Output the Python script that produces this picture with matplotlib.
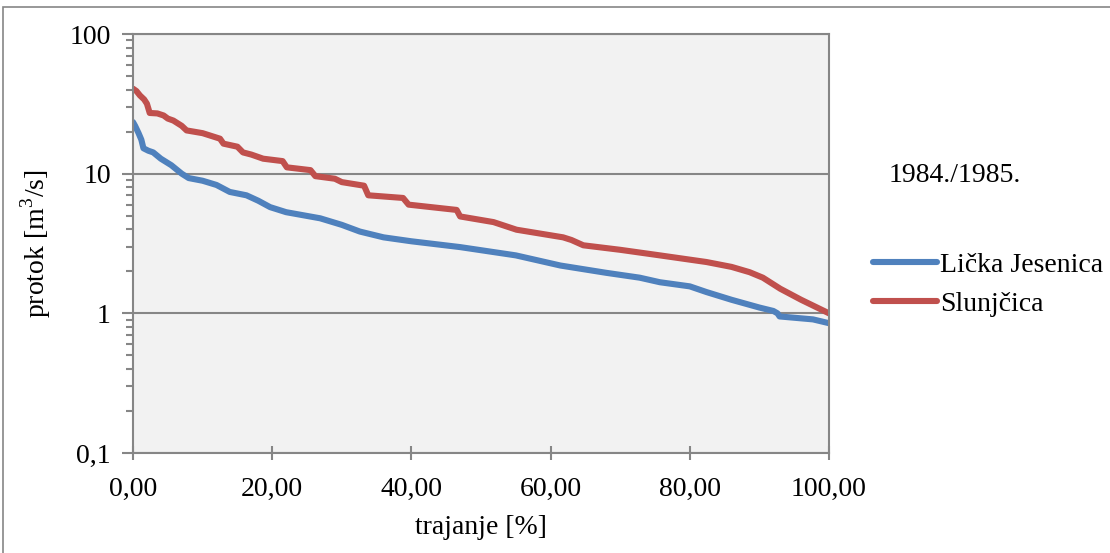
import matplotlib.pyplot as plt
from matplotlib.ticker import FixedLocator, FuncFormatter, LogLocator, NullFormatter
from matplotlib.patches import Rectangle

# duration curves (trajanje %, protok m3/s)
licka_x = [0.0, 0.3, 0.8, 1.2, 1.5, 2.2, 2.9, 4.0, 5.5, 7.0, 8.0, 10.0, 12.0, 13.9,
           16.3, 18.0, 19.7, 22.0, 26.9, 30.0, 32.6, 36.0, 40.0, 47.0, 55.0, 61.4,
           68.0, 72.8, 75.7, 80.0, 82.4, 86.0, 90.0, 92.0, 92.6, 92.9, 95.0, 97.7, 100.0]
licka_y = [23.4, 22.0, 19.5, 17.5, 15.2, 14.6, 14.2, 12.8, 11.5, 10.0, 9.3, 8.9, 8.3, 7.4,
           7.0, 6.4, 5.76, 5.3, 4.79, 4.3, 3.85, 3.5, 3.28, 2.98, 2.6, 2.2,
           1.95, 1.8, 1.67, 1.56, 1.42, 1.25, 1.1, 1.04, 1.0, 0.95, 0.93, 0.905, 0.85]

slunj_x = [0.0, 0.5, 1.0, 1.6, 2.0, 2.4, 3.5, 4.4, 5.0, 5.8, 7.0, 7.7, 10.0, 12.5,
           13.0, 15.0, 15.8, 17.0, 18.7, 21.5, 22.1, 25.5, 26.2, 29.0, 30.0, 33.2,
           33.8, 38.8, 39.6, 46.5, 47.0, 51.8, 55.1, 61.8, 63.0, 64.7, 70.0, 75.7,
           82.4, 86.0, 88.6, 90.5, 93.0, 96.0, 100.0]
slunj_y = [40.6, 39.0, 36.3, 34.0, 31.7, 27.2, 27.0, 26.1, 24.8, 24.0, 22.0, 20.4, 19.5, 17.8,
           16.4, 15.6, 14.2, 13.7, 12.8, 12.3, 11.1, 10.6, 9.6, 9.2, 8.7, 8.2,
           7.0, 6.7, 6.0, 5.5, 4.94, 4.5, 3.97, 3.5, 3.35, 3.07, 2.85, 2.6,
           2.33, 2.15, 1.97, 1.8, 1.5, 1.25, 1.0]

x_ticks = [0, 20, 40, 60, 80, 100]
y_ticks = [0.1, 1, 10, 100]

plt.rcParams['font.family'] = ['Liberation Serif', 'DejaVu Serif']
plt.rcParams['font.size'] = 20
plt.rcParams['mathtext.fontset'] = 'custom'
plt.rcParams['mathtext.rm'] = 'Liberation Serif'

fig = plt.figure(figsize=(11.1, 5.53), dpi=100)
ax = fig.add_axes([133 / 1110, 1 - 453 / 553, (829 - 133) / 1110, (453 - 34) / 553])

ax.set_facecolor('#F2F2F2')
ax.plot(licka_x, licka_y, color='#4F81BD', lw=4.4, solid_capstyle='round',
        solid_joinstyle='round', label='Lička Jesenica')
ax.plot(slunj_x, slunj_y, color='#C0504D', lw=4.4, solid_capstyle='round',
        solid_joinstyle='round', label='Slunjčica')

ax.set_yscale('log')
ax.set_xlim(0, 100)
ax.set_ylim(0.1, 100)
ax.xaxis.set_major_locator(FixedLocator(x_ticks))
ax.xaxis.set_major_formatter(FuncFormatter(lambda v, p: f'{v:.2f}'.replace('.', ',')))
ax.yaxis.set_major_locator(FixedLocator(y_ticks))
ax.yaxis.set_major_formatter(FuncFormatter(lambda v, p: f'{v:g}'.replace('.', ',')))
ax.yaxis.set_minor_locator(LogLocator(base=10, subs=range(2, 10)))
ax.yaxis.set_minor_formatter(NullFormatter())

ax.grid(axis='y', which='major', color='#868686', lw=1.5)
ax.set_axisbelow(True)
for s in ax.spines.values():
    s.set_color('#868686')
    s.set_linewidth(1.5)
ax.tick_params(axis='y', which='major', direction='out', length=8, width=1.5,
               color='#868686', pad=8)
ax.tick_params(axis='y', which='minor', direction='out', length=5, width=1.5,
               color='#868686')
ax.tick_params(axis='x', which='major', direction='inout', length=10, width=1.5,
               color='#868686', pad=12)

ax.set_xlabel('trajanje [%]', labelpad=10)
ax.set_ylabel('protok [m$^3$/s]', labelpad=12)

fig.text(955 / 1110, 1 - 175 / 553, '1984./1985.', ha='center', va='center')
ax.legend(loc='upper left', bbox_to_anchor=(862 / 1110, 1 - 241 / 553),
          bbox_transform=fig.transFigure, frameon=False, borderaxespad=0,
          handlelength=2.3, handletextpad=0.1, labelspacing=0.5)

fig.patches.append(Rectangle((3 / 1110, -0.01), 1.0, 1 - 7 / 553 + 0.01,
                             transform=fig.transFigure, fill=False,
                             edgecolor='#868686', lw=1.2))

fig.savefig('out.png', dpi=100)
